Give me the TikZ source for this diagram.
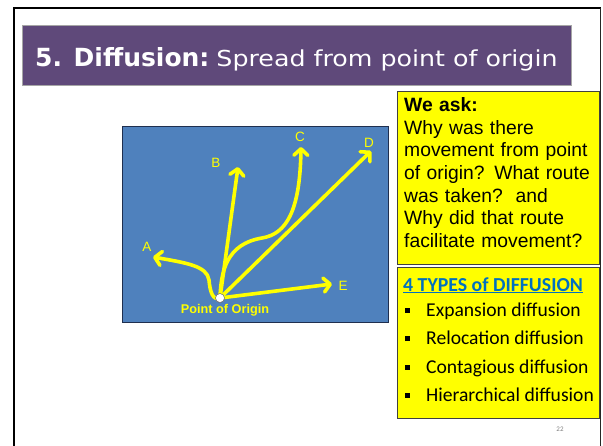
\documentclass[tikz,border=0pt]{standalone}
\usepackage{fontspec}
\usepackage{graphicx}
\setmainfont{Liberation Sans}
\newfontfamily\titlefont{DejaVu Sans}
\newfontfamily\calfont{Carlito}
\usetikzlibrary{arrows.meta}
\definecolor{titlepurple}{HTML}{5F497A}
\definecolor{mapblue}{HTML}{4F81BD}
\definecolor{mapborder}{HTML}{1F2F4F}
\definecolor{boxyellow}{HTML}{FFFF00}
\definecolor{headblue}{HTML}{0070C0}
\tikzset{
  route/.style={draw=boxyellow, line width=3.6pt, line cap=round, line join=round,
    -{Straight Barb[length=6.5pt,width=14pt,round]}},
  letter/.style={text=boxyellow, font=\fontsize{13.5}{15}\selectfont, inner sep=0pt},
  askbox/.style={draw=black!75, fill=boxyellow, line width=0.8pt},
  itemtext/.style={anchor=base west, inner sep=0pt, font=\calfont\fontsize{19.6}{22}\selectfont},
}
\newcommand{\sqbullet}{\makebox[21.5pt][l]{\rule[3.5pt]{5pt}{5pt}}}
\begin{document}
\begin{tikzpicture}[x=1pt,y=-1pt]
\useasboundingbox (0,0) rectangle (603,445);
% slide frame
\draw[line width=2.6pt, black] (14,446) -- (14,8);
\draw[line width=1.8pt, black] (13,8) -- (600.5,8);
\draw[line width=1.6pt, black!85] (600.5,8) -- (600.5,446);
% title
\node[draw=black!35, fill=titlepurple, line width=0.6pt, minimum width=549pt, minimum height=60pt, anchor=north west, inner sep=0pt] (titlebox) at (22,25) {};
\node[anchor=base west, inner sep=0pt, text=white] (title) at (35,66)
  {\titlefont\fontsize{25}{30}\selectfont\bfseries 5. Diffusion:\fontsize{22}{26}\mdseries\ \scalebox{1.15}[1]{Spread from point of origin}};
% map panel
\node[draw=mapborder, fill=mapblue, line width=0.9pt, minimum width=266pt, minimum height=196pt, anchor=north west, inner sep=0pt] (map) at (122,126) {};
\node[circle, draw=black!60, fill=white, line width=0.5pt, minimum size=9pt, inner sep=0pt] (origin) at (220,298) {};
\coordinate (tipA) at (153,257);
\coordinate (tipB) at (238,167);
\coordinate (tipC) at (301,147);
\coordinate (tipD) at (371,151);
\coordinate (tipE) at (332,284);
\draw[route] (origin.center) .. controls (213,301) and (210,292) .. (209,280) .. controls (207,266) and (187,263) .. (tipA);
\draw[route] (origin.center) -- (tipB);
\draw[route] (origin.center) .. controls (221,272) and (226,244) .. (262,238) .. controls (286,234) and (300,212) .. (tipC);
\draw[route] (origin.center) -- (tipD);
\draw[route] (origin.center) -- (tipE);
\node[circle, draw=black!60, fill=white, line width=0.5pt, minimum size=9pt, inner sep=0pt] at (origin) {};
\node[letter] (lA) at (147,247) {A};
\node[letter] (lB) at (216,163) {B};
\node[letter] (lC) at (300,137) {C};
\node[letter] (lD) at (369,143) {D};
\node[letter] (lE) at (343,286) {E};
\node[text=boxyellow, inner sep=0pt, font=\bfseries\fontsize{12.7}{15}\selectfont] (lorigin) at (225,310) {Point of Origin};
% question box
\node[askbox, minimum width=202pt, minimum height=173pt, anchor=north west, inner sep=0pt] (askbox) at (397,91) {};
\node[anchor=north west, inner sep=0pt, align=left, text width=195pt, font=\fontsize{19.3}{22.6}\selectfont] (asktext) at (404,97.5)
  {\textbf{We ask:}\\Why was there\\movement from point\\of origin? What route\\was taken?\ \ and\\Why did that route\\facilitate movement?};
% types box
\node[askbox, minimum width=202pt, minimum height=151pt, anchor=north west, inner sep=0pt] (typebox) at (397,267) {};
\node[anchor=base west, inner sep=0pt, text=headblue, font=\calfont\bfseries\fontsize{19.8}{22}\selectfont] (typehead) at (403,291)
  {\underline{4 TYPES of DIFFUSION}};
\node[itemtext] (t1) at (404.5,316) {\sqbullet Expansion diffusion};
\node[itemtext] (t2) at (404.5,344.5) {\sqbullet Relocation diffusion};
\node[itemtext] (t3) at (404.5,373) {\sqbullet Contagious diffusion};
\node[itemtext] (t4) at (404.5,401) {\sqbullet Hierarchical diffusion};
% page number
\node[text=black!50, inner sep=0pt, font=\calfont\fontsize{7}{8}\selectfont] (pagenum) at (560,429) {22};
\end{tikzpicture}
\end{document}
